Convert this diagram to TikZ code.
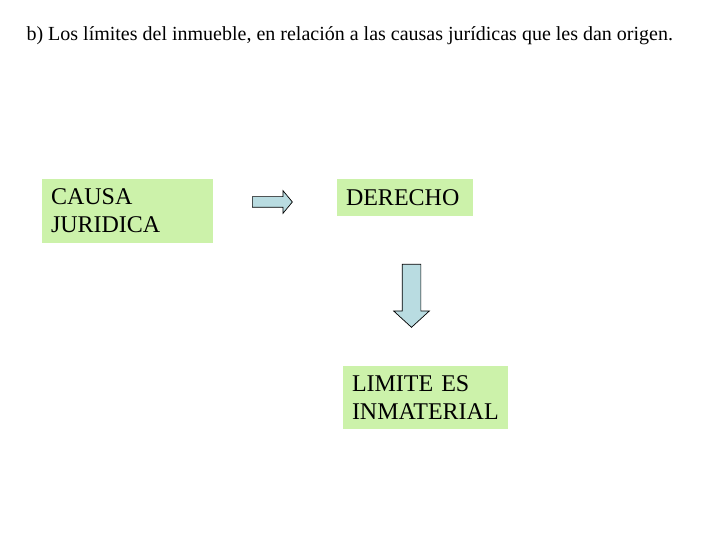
\documentclass[tikz,border=0pt]{standalone}
\usepackage{fontspec}
\setmainfont{Liberation Serif}
\usetikzlibrary{shapes.arrows}
\definecolor{boxgreen}{RGB}{204,242,170}
\definecolor{arrowblue}{RGB}{185,220,225}

\begin{document}
\begin{tikzpicture}[x=1pt,y=1pt,
  box/.style={fill=boxgreen, inner xsep=9pt, inner ysep=0pt, align=left,
    font=\fontsize{24}{28}\selectfont},
  blockarrow/.style={single arrow, draw=black, line width=0.7pt, fill=arrowblue,
    inner xsep=0pt}]
  \useasboundingbox (0,0) rectangle (720,540);

  \node[anchor=base west, font=\fontsize{20}{24}\selectfont] (title) at (23,499)
    {b) Los límites del inmueble, en relación a las causas jurídicas que les dan origen.};

  \node[box, text width=153pt, minimum height=64pt] (causa)   at (127.5,329)   {CAUSA\\JURIDICA};
  \node[box, text width=118pt, minimum height=37pt] (derecho) at (405,342.5)   {DERECHO};
  \node[box, text width=147pt, minimum height=63pt] (limite)  at (425.5,142.5) {LIMITE ES\\INMATERIAL};

  \node[blockarrow, minimum height=40pt, inner ysep=5pt,
    single arrow head extend=6pt, single arrow tip angle=101,
    anchor=tail] (arrcausa) at (252,338) {};
  \node[blockarrow, minimum height=63pt, inner ysep=9pt,
    single arrow head extend=8.5pt, single arrow tip angle=95,
    rotate=-90, anchor=tail] (arrderecho) at (411.5,276) {};

\end{tikzpicture}
\end{document}
